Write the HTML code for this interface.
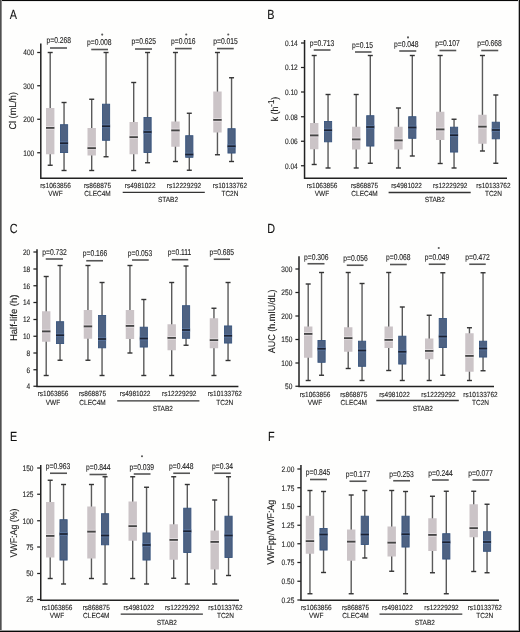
<!DOCTYPE html>
<html><head><meta charset="utf-8"><title>Figure</title>
<style>
html,body{margin:0;padding:0;background:#fefefd;}
body{width:520px;height:632px;overflow:hidden;position:relative;}
svg{position:absolute;left:0;top:0;display:block;}
text{font-family:"Liberation Sans",sans-serif;text-rendering:geometricPrecision;fill:#222;stroke:#222;stroke-width:0.12;}
svg{will-change:transform;}
.lt{fill:#111;}
.wh{stroke:#5a5a5a;stroke-width:1.4;}
.cp{stroke:#333;stroke-width:1.4;}
.gb{fill:#cbc4c7;}
.bb{fill:#4e6282;stroke:#39557e;stroke-width:0.9;}
.mdg{stroke:#454545;stroke-width:1.8;}
.mdb{stroke:#1b2233;stroke-width:1.6;}
.mhg{stroke:#e3dee1;stroke-width:0.9;}
.mhb{stroke:#5a76a0;stroke-width:0.9;}
.ax{fill:none;stroke:#222;stroke-width:1.5;stroke-linecap:butt;stroke-linejoin:miter;}
.tk{stroke:#222;stroke-width:1.25;}
.pb{stroke:#555;stroke-width:1.6;}
.sl{stroke:#333;stroke-width:1.3;}
</style></head>
<body>
<svg width="520" height="632" viewBox="0 0 520 632">
<rect x="0" y="0" width="520" height="632" fill="#fefefd"/>
<text transform="translate(9.7 18.6) scale(0.82 1)" font-size="13.2" class="lt">A</text>
<line x1="50.2" y1="52.5" x2="50.2" y2="165.25" class="wh"/>
<line x1="47.7" y1="52.5" x2="52.7" y2="52.5" class="cp"/>
<line x1="47.7" y1="165.25" x2="52.7" y2="165.25" class="cp"/>
<rect x="46" y="108" width="8.4" height="46.25" class="gb"/>
<line x1="46" y1="126.5" x2="54.4" y2="126.5" class="mhg"/>
<line x1="46" y1="129.3" x2="54.4" y2="129.3" class="mhg"/>
<line x1="46" y1="127.9" x2="54.4" y2="127.9" class="mdg"/>
<line x1="64.05" y1="102.5" x2="64.05" y2="170.5" class="wh"/>
<line x1="61.55" y1="102.5" x2="66.55" y2="102.5" class="cp"/>
<line x1="61.55" y1="170.5" x2="66.55" y2="170.5" class="cp"/>
<rect x="60.45" y="124.7" width="7.2" height="27.85" class="bb"/>
<line x1="60" y1="141.85" x2="68.1" y2="141.85" class="mhb"/>
<line x1="60" y1="144.65" x2="68.1" y2="144.65" class="mhb"/>
<line x1="60" y1="143.25" x2="68.1" y2="143.25" class="mdb"/>
<line x1="91.7" y1="99.25" x2="91.7" y2="170.5" class="wh"/>
<line x1="89.2" y1="99.25" x2="94.2" y2="99.25" class="cp"/>
<line x1="89.2" y1="170.5" x2="94.2" y2="170.5" class="cp"/>
<rect x="87.5" y="128" width="8.4" height="27.5" class="gb"/>
<line x1="87.5" y1="146.75" x2="95.9" y2="146.75" class="mhg"/>
<line x1="87.5" y1="149.55" x2="95.9" y2="149.55" class="mhg"/>
<line x1="87.5" y1="148.15" x2="95.9" y2="148.15" class="mdg"/>
<line x1="106.05" y1="52.5" x2="106.05" y2="156.75" class="wh"/>
<line x1="103.55" y1="52.5" x2="108.55" y2="52.5" class="cp"/>
<line x1="103.55" y1="156.75" x2="108.55" y2="156.75" class="cp"/>
<rect x="102.45" y="104.2" width="7.2" height="36.1" class="bb"/>
<line x1="102" y1="124.85" x2="110.1" y2="124.85" class="mhb"/>
<line x1="102" y1="127.65" x2="110.1" y2="127.65" class="mhb"/>
<line x1="102" y1="126.25" x2="110.1" y2="126.25" class="mdb"/>
<line x1="133.7" y1="82.5" x2="133.7" y2="170.5" class="wh"/>
<line x1="131.2" y1="82.5" x2="136.2" y2="82.5" class="cp"/>
<line x1="131.2" y1="170.5" x2="136.2" y2="170.5" class="cp"/>
<rect x="129.5" y="122" width="8.4" height="32.25" class="gb"/>
<line x1="129.5" y1="135.75" x2="137.9" y2="135.75" class="mhg"/>
<line x1="129.5" y1="138.55" x2="137.9" y2="138.55" class="mhg"/>
<line x1="129.5" y1="137.15" x2="137.9" y2="137.15" class="mdg"/>
<line x1="147.55" y1="52.5" x2="147.55" y2="162.75" class="wh"/>
<line x1="145.05" y1="52.5" x2="150.05" y2="52.5" class="cp"/>
<line x1="145.05" y1="162.75" x2="150.05" y2="162.75" class="cp"/>
<rect x="143.95" y="117.45" width="7.2" height="35.1" class="bb"/>
<line x1="143.5" y1="130.6" x2="151.6" y2="130.6" class="mhb"/>
<line x1="143.5" y1="133.4" x2="151.6" y2="133.4" class="mhb"/>
<line x1="143.5" y1="132" x2="151.6" y2="132" class="mdb"/>
<line x1="175.45" y1="52.5" x2="175.45" y2="161.5" class="wh"/>
<line x1="172.95" y1="52.5" x2="177.95" y2="52.5" class="cp"/>
<line x1="172.95" y1="161.5" x2="177.95" y2="161.5" class="cp"/>
<rect x="171.25" y="121.5" width="8.4" height="25.25" class="gb"/>
<line x1="171.25" y1="129" x2="179.65" y2="129" class="mhg"/>
<line x1="171.25" y1="131.8" x2="179.65" y2="131.8" class="mhg"/>
<line x1="171.25" y1="130.4" x2="179.65" y2="130.4" class="mdg"/>
<line x1="189.3" y1="113.25" x2="189.3" y2="170.25" class="wh"/>
<line x1="186.8" y1="113.25" x2="191.8" y2="113.25" class="cp"/>
<line x1="186.8" y1="170.25" x2="191.8" y2="170.25" class="cp"/>
<rect x="185.7" y="135.7" width="7.2" height="21.6" class="bb"/>
<line x1="185.25" y1="153.1" x2="193.35" y2="153.1" class="mhb"/>
<line x1="185.25" y1="155.9" x2="193.35" y2="155.9" class="mhb"/>
<line x1="185.25" y1="154.5" x2="193.35" y2="154.5" class="mdb"/>
<line x1="217.45" y1="52.5" x2="217.45" y2="154.75" class="wh"/>
<line x1="214.95" y1="52.5" x2="219.95" y2="52.5" class="cp"/>
<line x1="214.95" y1="154.75" x2="219.95" y2="154.75" class="cp"/>
<rect x="213.25" y="91.5" width="8.4" height="41" class="gb"/>
<line x1="213.25" y1="118.5" x2="221.65" y2="118.5" class="mhg"/>
<line x1="213.25" y1="121.3" x2="221.65" y2="121.3" class="mhg"/>
<line x1="213.25" y1="119.9" x2="221.65" y2="119.9" class="mdg"/>
<line x1="231.55" y1="77.75" x2="231.55" y2="161.5" class="wh"/>
<line x1="229.05" y1="77.75" x2="234.05" y2="77.75" class="cp"/>
<line x1="229.05" y1="161.5" x2="234.05" y2="161.5" class="cp"/>
<rect x="227.95" y="128.7" width="7.2" height="24.35" class="bb"/>
<line x1="227.5" y1="144.85" x2="235.6" y2="144.85" class="mhb"/>
<line x1="227.5" y1="147.65" x2="235.6" y2="147.65" class="mhb"/>
<line x1="227.5" y1="146.25" x2="235.6" y2="146.25" class="mdb"/>
<path d="M40.8 43.5 V178.3 H243" class="ax"/>
<line x1="37.2" y1="52.5" x2="40.8" y2="52.5" class="tk"/>
<text transform="translate(34.2 55.3) scale(0.83 1)" font-size="7.9" text-anchor="end">400</text>
<line x1="37.2" y1="85.75" x2="40.8" y2="85.75" class="tk"/>
<text transform="translate(34.2 88.55) scale(0.83 1)" font-size="7.9" text-anchor="end">300</text>
<line x1="37.2" y1="119.25" x2="40.8" y2="119.25" class="tk"/>
<text transform="translate(34.2 122.05) scale(0.83 1)" font-size="7.9" text-anchor="end">200</text>
<line x1="37.2" y1="152.75" x2="40.8" y2="152.75" class="tk"/>
<text transform="translate(34.2 155.55) scale(0.83 1)" font-size="7.9" text-anchor="end">100</text>
<text transform="translate(58.75 42.8) scale(0.795 1)" font-size="8.5" text-anchor="middle">p=0.268</text>
<line x1="50" y1="48" x2="67" y2="48" class="pb"/>
<text transform="translate(99.25 45) scale(0.795 1)" font-size="8.5" text-anchor="middle">p=0.008</text>
<line x1="91.25" y1="49.5" x2="108" y2="49.5" class="pb"/>
<circle cx="102.2" cy="34.6" r="1.05" fill="#5a5a5a"/>
<text transform="translate(143.75 44.3) scale(0.795 1)" font-size="8.5" text-anchor="middle">p=0.625</text>
<line x1="135" y1="49" x2="152" y2="49" class="pb"/>
<text transform="translate(183.25 44.1) scale(0.795 1)" font-size="8.5" text-anchor="middle">p=0.016</text>
<line x1="175" y1="48.6" x2="191.75" y2="48.6" class="pb"/>
<circle cx="186.25" cy="34.5" r="1.05" fill="#5a5a5a"/>
<text transform="translate(225.5 44.1) scale(0.795 1)" font-size="8.5" text-anchor="middle">p=0.015</text>
<line x1="217" y1="48.6" x2="233.75" y2="48.6" class="pb"/>
<circle cx="228.25" cy="34.5" r="1.05" fill="#5a5a5a"/>
<text transform="translate(55.5 187.7) scale(0.88 1)" font-size="7.4" text-anchor="middle">rs1063856</text>
<text transform="translate(55.5 195.9) scale(0.88 1)" font-size="7.4" text-anchor="middle">VWF</text>
<text transform="translate(97.5 187.7) scale(0.88 1)" font-size="7.4" text-anchor="middle">rs868875</text>
<text transform="translate(97.5 195.9) scale(0.88 1)" font-size="7.4" text-anchor="middle">CLEC4M</text>
<text transform="translate(140.2 187.7) scale(0.88 1)" font-size="7.4" text-anchor="middle">rs4981022</text>
<text transform="translate(184 187.7) scale(0.88 1)" font-size="7.4" text-anchor="middle">rs12229292</text>
<text transform="translate(229.9 187.7) scale(0.88 1)" font-size="7.4" text-anchor="middle">rs10133762</text>
<text transform="translate(229.9 195.9) scale(0.88 1)" font-size="7.4" text-anchor="middle">TC2N</text>
<line x1="122.7" y1="192.4" x2="204.8" y2="192.4" class="sl"/>
<text transform="translate(168 202.3) scale(0.88 1)" font-size="7.4" text-anchor="middle">STAB2</text>
<text transform="translate(15.8 110.8) rotate(-90) scale(0.93 1)" font-size="9.8" text-anchor="middle">Cl (mL/h)</text>
<text transform="translate(267.2 18.7) scale(0.82 1)" font-size="13.2" class="lt">B</text>
<line x1="314.2" y1="55.5" x2="314.2" y2="164.5" class="wh"/>
<line x1="311.7" y1="55.5" x2="316.7" y2="55.5" class="cp"/>
<line x1="311.7" y1="164.5" x2="316.7" y2="164.5" class="cp"/>
<rect x="310" y="123" width="8.4" height="26.25" class="gb"/>
<line x1="310" y1="134" x2="318.4" y2="134" class="mhg"/>
<line x1="310" y1="136.8" x2="318.4" y2="136.8" class="mhg"/>
<line x1="310" y1="135.4" x2="318.4" y2="135.4" class="mdg"/>
<line x1="328.05" y1="94.5" x2="328.05" y2="168" class="wh"/>
<line x1="325.55" y1="94.5" x2="330.55" y2="94.5" class="cp"/>
<line x1="325.55" y1="168" x2="330.55" y2="168" class="cp"/>
<rect x="324.45" y="121.45" width="7.2" height="20.35" class="bb"/>
<line x1="324" y1="128.85" x2="332.1" y2="128.85" class="mhb"/>
<line x1="324" y1="131.65" x2="332.1" y2="131.65" class="mhb"/>
<line x1="324" y1="130.25" x2="332.1" y2="130.25" class="mdb"/>
<line x1="356.2" y1="94.5" x2="356.2" y2="168" class="wh"/>
<line x1="353.7" y1="94.5" x2="358.7" y2="94.5" class="cp"/>
<line x1="353.7" y1="168" x2="358.7" y2="168" class="cp"/>
<rect x="352" y="126.75" width="8.4" height="22.75" class="gb"/>
<line x1="352" y1="138" x2="360.4" y2="138" class="mhg"/>
<line x1="352" y1="140.8" x2="360.4" y2="140.8" class="mhg"/>
<line x1="352" y1="139.4" x2="360.4" y2="139.4" class="mdg"/>
<line x1="370.3" y1="55.5" x2="370.3" y2="163.25" class="wh"/>
<line x1="367.8" y1="55.5" x2="372.8" y2="55.5" class="cp"/>
<line x1="367.8" y1="163.25" x2="372.8" y2="163.25" class="cp"/>
<rect x="366.7" y="115.7" width="7.2" height="30.35" class="bb"/>
<line x1="366.25" y1="125.6" x2="374.35" y2="125.6" class="mhb"/>
<line x1="366.25" y1="128.4" x2="374.35" y2="128.4" class="mhb"/>
<line x1="366.25" y1="127" x2="374.35" y2="127" class="mdb"/>
<line x1="398.45" y1="108" x2="398.45" y2="168" class="wh"/>
<line x1="395.95" y1="108" x2="400.95" y2="108" class="cp"/>
<line x1="395.95" y1="168" x2="400.95" y2="168" class="cp"/>
<rect x="394.25" y="126.75" width="8.4" height="22.75" class="gb"/>
<line x1="394.25" y1="139" x2="402.65" y2="139" class="mhg"/>
<line x1="394.25" y1="141.8" x2="402.65" y2="141.8" class="mhg"/>
<line x1="394.25" y1="140.4" x2="402.65" y2="140.4" class="mdg"/>
<line x1="412.3" y1="55.5" x2="412.3" y2="156" class="wh"/>
<line x1="409.8" y1="55.5" x2="414.8" y2="55.5" class="cp"/>
<line x1="409.8" y1="156" x2="414.8" y2="156" class="cp"/>
<rect x="408.7" y="116.7" width="7.2" height="21.6" class="bb"/>
<line x1="408.25" y1="126.1" x2="416.35" y2="126.1" class="mhb"/>
<line x1="408.25" y1="128.9" x2="416.35" y2="128.9" class="mhb"/>
<line x1="408.25" y1="127.5" x2="416.35" y2="127.5" class="mdb"/>
<line x1="440.2" y1="55.5" x2="440.2" y2="163.5" class="wh"/>
<line x1="437.7" y1="55.5" x2="442.7" y2="55.5" class="cp"/>
<line x1="437.7" y1="163.5" x2="442.7" y2="163.5" class="cp"/>
<rect x="436" y="111.75" width="8.4" height="28.25" class="gb"/>
<line x1="436" y1="128" x2="444.4" y2="128" class="mhg"/>
<line x1="436" y1="130.8" x2="444.4" y2="130.8" class="mhg"/>
<line x1="436" y1="129.4" x2="444.4" y2="129.4" class="mdg"/>
<line x1="454.05" y1="119.25" x2="454.05" y2="168" class="wh"/>
<line x1="451.55" y1="119.25" x2="456.55" y2="119.25" class="cp"/>
<line x1="451.55" y1="168" x2="456.55" y2="168" class="cp"/>
<rect x="450.45" y="127.2" width="7.2" height="24.85" class="bb"/>
<line x1="450" y1="133.85" x2="458.1" y2="133.85" class="mhb"/>
<line x1="450" y1="136.65" x2="458.1" y2="136.65" class="mhb"/>
<line x1="450" y1="135.25" x2="458.1" y2="135.25" class="mdb"/>
<line x1="482.45" y1="55.5" x2="482.45" y2="151" class="wh"/>
<line x1="479.95" y1="55.5" x2="484.95" y2="55.5" class="cp"/>
<line x1="479.95" y1="151" x2="484.95" y2="151" class="cp"/>
<rect x="478.25" y="114.75" width="8.4" height="29" class="gb"/>
<line x1="478.25" y1="125.25" x2="486.65" y2="125.25" class="mhg"/>
<line x1="478.25" y1="128.05" x2="486.65" y2="128.05" class="mhg"/>
<line x1="478.25" y1="126.65" x2="486.65" y2="126.65" class="mdg"/>
<line x1="495.8" y1="95" x2="495.8" y2="163.25" class="wh"/>
<line x1="493.3" y1="95" x2="498.3" y2="95" class="cp"/>
<line x1="493.3" y1="163.25" x2="498.3" y2="163.25" class="cp"/>
<rect x="492.2" y="122.2" width="7.2" height="16.6" class="bb"/>
<line x1="491.75" y1="128.6" x2="499.85" y2="128.6" class="mhb"/>
<line x1="491.75" y1="131.4" x2="499.85" y2="131.4" class="mhb"/>
<line x1="491.75" y1="130" x2="499.85" y2="130" class="mdb"/>
<path d="M304.55 40 V178.3 H507" class="ax"/>
<line x1="300.95" y1="43" x2="304.55" y2="43" class="tk"/>
<text transform="translate(297.7 45.8) scale(0.83 1)" font-size="7.9" text-anchor="end">0.14</text>
<line x1="300.95" y1="67.5" x2="304.55" y2="67.5" class="tk"/>
<text transform="translate(297.7 70.3) scale(0.83 1)" font-size="7.9" text-anchor="end">0.12</text>
<line x1="300.95" y1="92" x2="304.55" y2="92" class="tk"/>
<text transform="translate(297.7 94.8) scale(0.83 1)" font-size="7.9" text-anchor="end">0.10</text>
<line x1="300.95" y1="116.75" x2="304.55" y2="116.75" class="tk"/>
<text transform="translate(297.7 119.55) scale(0.83 1)" font-size="7.9" text-anchor="end">0.08</text>
<line x1="300.95" y1="141.25" x2="304.55" y2="141.25" class="tk"/>
<text transform="translate(297.7 144.05) scale(0.83 1)" font-size="7.9" text-anchor="end">0.06</text>
<line x1="300.95" y1="165.75" x2="304.55" y2="165.75" class="tk"/>
<text transform="translate(297.7 168.55) scale(0.83 1)" font-size="7.9" text-anchor="end">0.04</text>
<text transform="translate(322 45.8) scale(0.795 1)" font-size="8.5" text-anchor="middle">p=0.713</text>
<line x1="313.75" y1="50" x2="330.5" y2="50" class="pb"/>
<text transform="translate(362.5 47.8) scale(0.795 1)" font-size="8.5" text-anchor="middle">p=0.15</text>
<line x1="355" y1="52" x2="371.5" y2="52" class="pb"/>
<text transform="translate(406.25 47) scale(0.795 1)" font-size="8.5" text-anchor="middle">p=0.048</text>
<line x1="399.25" y1="51" x2="416.25" y2="51" class="pb"/>
<circle cx="408" cy="37.4" r="1.05" fill="#5a5a5a"/>
<text transform="translate(447.5 45.8) scale(0.795 1)" font-size="8.5" text-anchor="middle">p=0.107</text>
<line x1="439.5" y1="50.5" x2="456.25" y2="50.5" class="pb"/>
<text transform="translate(489.5 45.8) scale(0.795 1)" font-size="8.5" text-anchor="middle">p=0.668</text>
<line x1="481.25" y1="50.5" x2="498.25" y2="50.5" class="pb"/>
<text transform="translate(322 187.9) scale(0.88 1)" font-size="7.4" text-anchor="middle">rs1063856</text>
<text transform="translate(322 196.3) scale(0.88 1)" font-size="7.4" text-anchor="middle">VWF</text>
<text transform="translate(364.5 187.9) scale(0.88 1)" font-size="7.4" text-anchor="middle">rs868875</text>
<text transform="translate(364.5 196.3) scale(0.88 1)" font-size="7.4" text-anchor="middle">CLEC4M</text>
<text transform="translate(406.5 187.9) scale(0.88 1)" font-size="7.4" text-anchor="middle">rs4981022</text>
<text transform="translate(450.2 187.9) scale(0.88 1)" font-size="7.4" text-anchor="middle">rs12229292</text>
<text transform="translate(493.4 187.9) scale(0.88 1)" font-size="7.4" text-anchor="middle">rs10133762</text>
<text transform="translate(493.4 196.3) scale(0.88 1)" font-size="7.4" text-anchor="middle">TC2N</text>
<line x1="388.6" y1="192.5" x2="470.7" y2="192.5" class="sl"/>
<text transform="translate(434.7 202.3) scale(0.88 1)" font-size="7.4" text-anchor="middle">STAB2</text>
<text transform="translate(277.9 109.1) rotate(-90) scale(0.9 1)" font-size="9.8" text-anchor="middle">k (h<tspan dy="-3.6" font-size="8.6">-1</tspan><tspan dy="3.6">)</tspan></text>
<text transform="translate(9.7 232.5) scale(0.82 1)" font-size="13.2" class="lt">C</text>
<line x1="46.2" y1="276.5" x2="46.2" y2="375.5" class="wh"/>
<line x1="43.7" y1="276.5" x2="48.7" y2="276.5" class="cp"/>
<line x1="43.7" y1="375.5" x2="48.7" y2="375.5" class="cp"/>
<rect x="42" y="311.25" width="8.4" height="30.5" class="gb"/>
<line x1="42" y1="330" x2="50.4" y2="330" class="mhg"/>
<line x1="42" y1="332.8" x2="50.4" y2="332.8" class="mhg"/>
<line x1="42" y1="331.4" x2="50.4" y2="331.4" class="mdg"/>
<line x1="60.05" y1="265.5" x2="60.05" y2="360.25" class="wh"/>
<line x1="57.55" y1="265.5" x2="62.55" y2="265.5" class="cp"/>
<line x1="57.55" y1="360.25" x2="62.55" y2="360.25" class="cp"/>
<rect x="56.45" y="321.7" width="7.2" height="21.85" class="bb"/>
<line x1="56" y1="333.85" x2="64.1" y2="333.85" class="mhb"/>
<line x1="56" y1="336.65" x2="64.1" y2="336.65" class="mhb"/>
<line x1="56" y1="335.25" x2="64.1" y2="335.25" class="mdb"/>
<line x1="87.95" y1="265.5" x2="87.95" y2="360.25" class="wh"/>
<line x1="85.45" y1="265.5" x2="90.45" y2="265.5" class="cp"/>
<line x1="85.45" y1="360.25" x2="90.45" y2="360.25" class="cp"/>
<rect x="83.75" y="310" width="8.4" height="28.75" class="gb"/>
<line x1="83.75" y1="325" x2="92.15" y2="325" class="mhg"/>
<line x1="83.75" y1="327.8" x2="92.15" y2="327.8" class="mhg"/>
<line x1="83.75" y1="326.4" x2="92.15" y2="326.4" class="mdg"/>
<line x1="102.05" y1="282.5" x2="102.05" y2="375.5" class="wh"/>
<line x1="99.55" y1="282.5" x2="104.55" y2="282.5" class="cp"/>
<line x1="99.55" y1="375.5" x2="104.55" y2="375.5" class="cp"/>
<rect x="98.45" y="315.45" width="7.2" height="32.35" class="bb"/>
<line x1="98" y1="337.6" x2="106.1" y2="337.6" class="mhb"/>
<line x1="98" y1="340.4" x2="106.1" y2="340.4" class="mhb"/>
<line x1="98" y1="339" x2="106.1" y2="339" class="mdb"/>
<line x1="129.95" y1="265.5" x2="129.95" y2="353" class="wh"/>
<line x1="127.45" y1="265.5" x2="132.45" y2="265.5" class="cp"/>
<line x1="127.45" y1="353" x2="132.45" y2="353" class="cp"/>
<rect x="125.75" y="310" width="8.4" height="29" class="gb"/>
<line x1="125.75" y1="324.5" x2="134.15" y2="324.5" class="mhg"/>
<line x1="125.75" y1="327.3" x2="134.15" y2="327.3" class="mhg"/>
<line x1="125.75" y1="325.9" x2="134.15" y2="325.9" class="mdg"/>
<line x1="143.8" y1="299.5" x2="143.8" y2="375.5" class="wh"/>
<line x1="141.3" y1="299.5" x2="146.3" y2="299.5" class="cp"/>
<line x1="141.3" y1="375.5" x2="146.3" y2="375.5" class="cp"/>
<rect x="140.2" y="327.2" width="7.2" height="19.85" class="bb"/>
<line x1="139.75" y1="337.1" x2="147.85" y2="337.1" class="mhb"/>
<line x1="139.75" y1="339.9" x2="147.85" y2="339.9" class="mhb"/>
<line x1="139.75" y1="338.5" x2="147.85" y2="338.5" class="mdb"/>
<line x1="171.7" y1="282.5" x2="171.7" y2="375.5" class="wh"/>
<line x1="169.2" y1="282.5" x2="174.2" y2="282.5" class="cp"/>
<line x1="169.2" y1="375.5" x2="174.2" y2="375.5" class="cp"/>
<rect x="167.5" y="324.25" width="8.4" height="26" class="gb"/>
<line x1="167.5" y1="336.5" x2="175.9" y2="336.5" class="mhg"/>
<line x1="167.5" y1="339.3" x2="175.9" y2="339.3" class="mhg"/>
<line x1="167.5" y1="337.9" x2="175.9" y2="337.9" class="mdg"/>
<line x1="186.05" y1="266" x2="186.05" y2="345.25" class="wh"/>
<line x1="183.55" y1="266" x2="188.55" y2="266" class="cp"/>
<line x1="183.55" y1="345.25" x2="188.55" y2="345.25" class="cp"/>
<rect x="182.45" y="305.7" width="7.2" height="32.6" class="bb"/>
<line x1="182" y1="328.6" x2="190.1" y2="328.6" class="mhb"/>
<line x1="182" y1="331.4" x2="190.1" y2="331.4" class="mhb"/>
<line x1="182" y1="330" x2="190.1" y2="330" class="mdb"/>
<line x1="213.95" y1="308.25" x2="213.95" y2="375.5" class="wh"/>
<line x1="211.45" y1="308.25" x2="216.45" y2="308.25" class="cp"/>
<line x1="211.45" y1="375.5" x2="216.45" y2="375.5" class="cp"/>
<rect x="209.75" y="318.25" width="8.4" height="30" class="gb"/>
<line x1="209.75" y1="338.75" x2="218.15" y2="338.75" class="mhg"/>
<line x1="209.75" y1="341.55" x2="218.15" y2="341.55" class="mhg"/>
<line x1="209.75" y1="340.15" x2="218.15" y2="340.15" class="mdg"/>
<line x1="228.05" y1="282.5" x2="228.05" y2="360.5" class="wh"/>
<line x1="225.55" y1="282.5" x2="230.55" y2="282.5" class="cp"/>
<line x1="225.55" y1="360.5" x2="230.55" y2="360.5" class="cp"/>
<rect x="224.45" y="325.95" width="7.2" height="17.1" class="bb"/>
<line x1="224" y1="334.35" x2="232.1" y2="334.35" class="mhb"/>
<line x1="224" y1="337.15" x2="232.1" y2="337.15" class="mhb"/>
<line x1="224" y1="335.75" x2="232.1" y2="335.75" class="mdb"/>
<path d="M37 249.3 V386.5 H238.4" class="ax"/>
<line x1="33.4" y1="252" x2="37" y2="252" class="tk"/>
<text transform="translate(30.2 254.8) scale(0.83 1)" font-size="7.9" text-anchor="end">20</text>
<line x1="33.4" y1="269" x2="37" y2="269" class="tk"/>
<text transform="translate(30.2 271.8) scale(0.83 1)" font-size="7.9" text-anchor="end">18</text>
<line x1="33.4" y1="285.75" x2="37" y2="285.75" class="tk"/>
<text transform="translate(30.2 288.55) scale(0.83 1)" font-size="7.9" text-anchor="end">16</text>
<line x1="33.4" y1="302.5" x2="37" y2="302.5" class="tk"/>
<text transform="translate(30.2 305.3) scale(0.83 1)" font-size="7.9" text-anchor="end">14</text>
<line x1="33.4" y1="319.5" x2="37" y2="319.5" class="tk"/>
<text transform="translate(30.2 322.3) scale(0.83 1)" font-size="7.9" text-anchor="end">12</text>
<line x1="33.4" y1="336.25" x2="37" y2="336.25" class="tk"/>
<text transform="translate(30.2 339.05) scale(0.83 1)" font-size="7.9" text-anchor="end">10</text>
<line x1="33.4" y1="353" x2="37" y2="353" class="tk"/>
<text transform="translate(30.2 355.8) scale(0.83 1)" font-size="7.9" text-anchor="end">8</text>
<line x1="33.4" y1="369.75" x2="37" y2="369.75" class="tk"/>
<text transform="translate(30.2 372.55) scale(0.83 1)" font-size="7.9" text-anchor="end">6</text>
<line x1="33.4" y1="386.25" x2="37" y2="386.25" class="tk"/>
<text transform="translate(30.2 389.05) scale(0.83 1)" font-size="7.9" text-anchor="end">4</text>
<text transform="translate(54.5 254.5) scale(0.795 1)" font-size="8.5" text-anchor="middle">p=0.732</text>
<line x1="45.75" y1="259" x2="63" y2="259" class="pb"/>
<text transform="translate(95 256) scale(0.795 1)" font-size="8.5" text-anchor="middle">p=0.166</text>
<line x1="86.25" y1="260.75" x2="103" y2="260.75" class="pb"/>
<text transform="translate(140 255.8) scale(0.795 1)" font-size="8.5" text-anchor="middle">p=0.053</text>
<line x1="132" y1="260" x2="148.75" y2="260" class="pb"/>
<text transform="translate(179.5 254.8) scale(0.795 1)" font-size="8.5" text-anchor="middle">p=0.111</text>
<line x1="171.75" y1="259.7" x2="188.25" y2="259.7" class="pb"/>
<text transform="translate(221.75 254.8) scale(0.795 1)" font-size="8.5" text-anchor="middle">p=0.685</text>
<line x1="213.75" y1="259.25" x2="230" y2="259.25" class="pb"/>
<text transform="translate(53 396.1) scale(0.88 1)" font-size="7.4" text-anchor="middle">rs1063856</text>
<text transform="translate(53 404.8) scale(0.88 1)" font-size="7.4" text-anchor="middle">VWF</text>
<text transform="translate(92.5 396.1) scale(0.88 1)" font-size="7.4" text-anchor="middle">rs868875</text>
<text transform="translate(92.5 404.8) scale(0.88 1)" font-size="7.4" text-anchor="middle">CLEC4M</text>
<text transform="translate(135.1 396.1) scale(0.88 1)" font-size="7.4" text-anchor="middle">rs4981022</text>
<text transform="translate(179.2 396.1) scale(0.88 1)" font-size="7.4" text-anchor="middle">rs12229292</text>
<text transform="translate(224.8 396.1) scale(0.88 1)" font-size="7.4" text-anchor="middle">rs10133762</text>
<text transform="translate(224.8 404.8) scale(0.88 1)" font-size="7.4" text-anchor="middle">TC2N</text>
<line x1="117.2" y1="400.8" x2="199.4" y2="400.8" class="sl"/>
<text transform="translate(162.8 411) scale(0.88 1)" font-size="7.4" text-anchor="middle">STAB2</text>
<text transform="translate(16.9 317.8) rotate(-90) scale(0.97 1)" font-size="9.8" text-anchor="middle">Half-life (h)</text>
<text transform="translate(267.2 232.5) scale(0.82 1)" font-size="13.2" class="lt">D</text>
<line x1="308.2" y1="284" x2="308.2" y2="380.5" class="wh"/>
<line x1="305.7" y1="284" x2="310.7" y2="284" class="cp"/>
<line x1="305.7" y1="380.5" x2="310.7" y2="380.5" class="cp"/>
<rect x="304" y="326.5" width="8.4" height="31.25" class="gb"/>
<line x1="304" y1="332.5" x2="312.4" y2="332.5" class="mhg"/>
<line x1="304" y1="335.3" x2="312.4" y2="335.3" class="mhg"/>
<line x1="304" y1="333.9" x2="312.4" y2="333.9" class="mdg"/>
<line x1="321.55" y1="272.5" x2="321.55" y2="375.25" class="wh"/>
<line x1="319.05" y1="272.5" x2="324.05" y2="272.5" class="cp"/>
<line x1="319.05" y1="375.25" x2="324.05" y2="375.25" class="cp"/>
<rect x="317.95" y="340.45" width="7.2" height="21.85" class="bb"/>
<line x1="317.5" y1="347.35" x2="325.6" y2="347.35" class="mhb"/>
<line x1="317.5" y1="350.15" x2="325.6" y2="350.15" class="mhb"/>
<line x1="317.5" y1="348.75" x2="325.6" y2="348.75" class="mdb"/>
<line x1="348.2" y1="272.5" x2="348.2" y2="368.5" class="wh"/>
<line x1="345.7" y1="272.5" x2="350.7" y2="272.5" class="cp"/>
<line x1="345.7" y1="368.5" x2="350.7" y2="368.5" class="cp"/>
<rect x="344" y="327.25" width="8.4" height="24.5" class="gb"/>
<line x1="344" y1="336.75" x2="352.4" y2="336.75" class="mhg"/>
<line x1="344" y1="339.55" x2="352.4" y2="339.55" class="mhg"/>
<line x1="344" y1="338.15" x2="352.4" y2="338.15" class="mdg"/>
<line x1="362.05" y1="283.5" x2="362.05" y2="380.5" class="wh"/>
<line x1="359.55" y1="283.5" x2="364.55" y2="283.5" class="cp"/>
<line x1="359.55" y1="380.5" x2="364.55" y2="380.5" class="cp"/>
<rect x="358.45" y="341.2" width="7.2" height="25.1" class="bb"/>
<line x1="358" y1="349.1" x2="366.1" y2="349.1" class="mhb"/>
<line x1="358" y1="351.9" x2="366.1" y2="351.9" class="mhb"/>
<line x1="358" y1="350.5" x2="366.1" y2="350.5" class="mdb"/>
<line x1="388.7" y1="272.5" x2="388.7" y2="370.5" class="wh"/>
<line x1="386.2" y1="272.5" x2="391.2" y2="272.5" class="cp"/>
<line x1="386.2" y1="370.5" x2="391.2" y2="370.5" class="cp"/>
<rect x="384.5" y="326.5" width="8.4" height="21.5" class="gb"/>
<line x1="384.5" y1="338.5" x2="392.9" y2="338.5" class="mhg"/>
<line x1="384.5" y1="341.3" x2="392.9" y2="341.3" class="mhg"/>
<line x1="384.5" y1="339.9" x2="392.9" y2="339.9" class="mdg"/>
<line x1="402.3" y1="307" x2="402.3" y2="380.5" class="wh"/>
<line x1="399.8" y1="307" x2="404.8" y2="307" class="cp"/>
<line x1="399.8" y1="380.5" x2="404.8" y2="380.5" class="cp"/>
<rect x="398.7" y="336.2" width="7.2" height="27.85" class="bb"/>
<line x1="398.25" y1="350.35" x2="406.35" y2="350.35" class="mhb"/>
<line x1="398.25" y1="353.15" x2="406.35" y2="353.15" class="mhb"/>
<line x1="398.25" y1="351.75" x2="406.35" y2="351.75" class="mdb"/>
<line x1="429.2" y1="315.25" x2="429.2" y2="380.5" class="wh"/>
<line x1="426.7" y1="315.25" x2="431.7" y2="315.25" class="cp"/>
<line x1="426.7" y1="380.5" x2="431.7" y2="380.5" class="cp"/>
<rect x="425" y="338.5" width="8.4" height="20.75" class="gb"/>
<line x1="425" y1="349.5" x2="433.4" y2="349.5" class="mhg"/>
<line x1="425" y1="352.3" x2="433.4" y2="352.3" class="mhg"/>
<line x1="425" y1="350.9" x2="433.4" y2="350.9" class="mdg"/>
<line x1="442.8" y1="272.75" x2="442.8" y2="375.25" class="wh"/>
<line x1="440.3" y1="272.75" x2="445.3" y2="272.75" class="cp"/>
<line x1="440.3" y1="375.25" x2="445.3" y2="375.25" class="cp"/>
<rect x="439.2" y="318.45" width="7.2" height="29.1" class="bb"/>
<line x1="438.75" y1="335.1" x2="446.85" y2="335.1" class="mhb"/>
<line x1="438.75" y1="337.9" x2="446.85" y2="337.9" class="mhb"/>
<line x1="438.75" y1="336.5" x2="446.85" y2="336.5" class="mdb"/>
<line x1="469.45" y1="327.75" x2="469.45" y2="380.5" class="wh"/>
<line x1="466.95" y1="327.75" x2="471.95" y2="327.75" class="cp"/>
<line x1="466.95" y1="380.5" x2="471.95" y2="380.5" class="cp"/>
<rect x="465.25" y="333.25" width="8.4" height="38.5" class="gb"/>
<line x1="465.25" y1="354.5" x2="473.65" y2="354.5" class="mhg"/>
<line x1="465.25" y1="357.3" x2="473.65" y2="357.3" class="mhg"/>
<line x1="465.25" y1="355.9" x2="473.65" y2="355.9" class="mdg"/>
<line x1="483.05" y1="272.75" x2="483.05" y2="370.75" class="wh"/>
<line x1="480.55" y1="272.75" x2="485.55" y2="272.75" class="cp"/>
<line x1="480.55" y1="370.75" x2="485.55" y2="370.75" class="cp"/>
<rect x="479.45" y="341.2" width="7.2" height="15.85" class="bb"/>
<line x1="479" y1="347.1" x2="487.1" y2="347.1" class="mhb"/>
<line x1="479" y1="349.9" x2="487.1" y2="349.9" class="mhb"/>
<line x1="479" y1="348.5" x2="487.1" y2="348.5" class="mdb"/>
<path d="M299 256.3 V386.5 H494" class="ax"/>
<line x1="295.4" y1="269" x2="299" y2="269" class="tk"/>
<text transform="translate(292.3 271.8) scale(0.83 1)" font-size="7.9" text-anchor="end">300</text>
<line x1="295.4" y1="292.5" x2="299" y2="292.5" class="tk"/>
<text transform="translate(292.3 295.3) scale(0.83 1)" font-size="7.9" text-anchor="end">250</text>
<line x1="295.4" y1="316" x2="299" y2="316" class="tk"/>
<text transform="translate(292.3 318.8) scale(0.83 1)" font-size="7.9" text-anchor="end">200</text>
<line x1="295.4" y1="339.5" x2="299" y2="339.5" class="tk"/>
<text transform="translate(292.3 342.3) scale(0.83 1)" font-size="7.9" text-anchor="end">150</text>
<line x1="295.4" y1="363" x2="299" y2="363" class="tk"/>
<text transform="translate(292.3 365.8) scale(0.83 1)" font-size="7.9" text-anchor="end">100</text>
<line x1="295.4" y1="386.25" x2="299" y2="386.25" class="tk"/>
<text transform="translate(292.3 389.05) scale(0.83 1)" font-size="7.9" text-anchor="end">50</text>
<text transform="translate(316.25 259.5) scale(0.795 1)" font-size="8.5" text-anchor="middle">p=0.306</text>
<line x1="307.5" y1="263.75" x2="324.5" y2="263.75" class="pb"/>
<text transform="translate(355.5 260.8) scale(0.795 1)" font-size="8.5" text-anchor="middle">p=0.056</text>
<line x1="346.75" y1="265.25" x2="363.5" y2="265.25" class="pb"/>
<text transform="translate(398.25 260.3) scale(0.795 1)" font-size="8.5" text-anchor="middle">p=0.068</text>
<line x1="390" y1="264.5" x2="406.75" y2="264.5" class="pb"/>
<text transform="translate(437 259.8) scale(0.795 1)" font-size="8.5" text-anchor="middle">p=0.049</text>
<line x1="428.75" y1="264.25" x2="445.5" y2="264.25" class="pb"/>
<circle cx="438.75" cy="248" r="1.05" fill="#5a5a5a"/>
<text transform="translate(477.5 259.8) scale(0.795 1)" font-size="8.5" text-anchor="middle">p=0.472</text>
<line x1="469.25" y1="264.25" x2="485.75" y2="264.25" class="pb"/>
<text transform="translate(315 396.5) scale(0.88 1)" font-size="7.4" text-anchor="middle">rs1063856</text>
<text transform="translate(315 405) scale(0.88 1)" font-size="7.4" text-anchor="middle">VWF</text>
<text transform="translate(353.75 396.5) scale(0.88 1)" font-size="7.4" text-anchor="middle">rs868875</text>
<text transform="translate(353.75 405) scale(0.88 1)" font-size="7.4" text-anchor="middle">CLEC4M</text>
<text transform="translate(394.5 396.5) scale(0.88 1)" font-size="7.4" text-anchor="middle">rs4981022</text>
<text transform="translate(438.4 396.5) scale(0.88 1)" font-size="7.4" text-anchor="middle">rs12229292</text>
<text transform="translate(480.5 396.5) scale(0.88 1)" font-size="7.4" text-anchor="middle">rs10133762</text>
<text transform="translate(480.5 405) scale(0.88 1)" font-size="7.4" text-anchor="middle">TC2N</text>
<line x1="376.3" y1="400.5" x2="458.8" y2="400.5" class="sl"/>
<text transform="translate(422.8 410.8) scale(0.88 1)" font-size="7.4" text-anchor="middle">STAB2</text>
<text transform="translate(275.2 321.3) rotate(-90) scale(0.915 1)" font-size="9.8" text-anchor="middle">AUC (h.mIU/dL)</text>
<text transform="translate(10 441.3) scale(0.82 1)" font-size="13.2" class="lt">E</text>
<line x1="50.2" y1="480.25" x2="50.2" y2="578.5" class="wh"/>
<line x1="47.7" y1="480.25" x2="52.7" y2="480.25" class="cp"/>
<line x1="47.7" y1="578.5" x2="52.7" y2="578.5" class="cp"/>
<rect x="46" y="502" width="8.4" height="55.5" class="gb"/>
<line x1="46" y1="534.5" x2="54.4" y2="534.5" class="mhg"/>
<line x1="46" y1="537.3" x2="54.4" y2="537.3" class="mhg"/>
<line x1="46" y1="535.9" x2="54.4" y2="535.9" class="mdg"/>
<line x1="63.55" y1="484.5" x2="63.55" y2="584" class="wh"/>
<line x1="61.05" y1="484.5" x2="66.05" y2="484.5" class="cp"/>
<line x1="61.05" y1="584" x2="66.05" y2="584" class="cp"/>
<rect x="59.95" y="519.7" width="7.2" height="40.35" class="bb"/>
<line x1="59.5" y1="532.6" x2="67.6" y2="532.6" class="mhb"/>
<line x1="59.5" y1="535.4" x2="67.6" y2="535.4" class="mhb"/>
<line x1="59.5" y1="534" x2="67.6" y2="534" class="mdb"/>
<line x1="91.45" y1="484.5" x2="91.45" y2="578.5" class="wh"/>
<line x1="88.95" y1="484.5" x2="93.95" y2="484.5" class="cp"/>
<line x1="88.95" y1="578.5" x2="93.95" y2="578.5" class="cp"/>
<rect x="87.25" y="506.5" width="8.4" height="52" class="gb"/>
<line x1="87.25" y1="530.25" x2="95.65" y2="530.25" class="mhg"/>
<line x1="87.25" y1="533.05" x2="95.65" y2="533.05" class="mhg"/>
<line x1="87.25" y1="531.65" x2="95.65" y2="531.65" class="mdg"/>
<line x1="105.05" y1="476.75" x2="105.05" y2="584" class="wh"/>
<line x1="102.55" y1="476.75" x2="107.55" y2="476.75" class="cp"/>
<line x1="102.55" y1="584" x2="107.55" y2="584" class="cp"/>
<rect x="101.45" y="513.7" width="7.2" height="31.1" class="bb"/>
<line x1="101" y1="534.1" x2="109.1" y2="534.1" class="mhb"/>
<line x1="101" y1="536.9" x2="109.1" y2="536.9" class="mhb"/>
<line x1="101" y1="535.5" x2="109.1" y2="535.5" class="mdb"/>
<line x1="132.7" y1="476.75" x2="132.7" y2="578.5" class="wh"/>
<line x1="130.2" y1="476.75" x2="135.2" y2="476.75" class="cp"/>
<line x1="130.2" y1="578.5" x2="135.2" y2="578.5" class="cp"/>
<rect x="128.5" y="501.5" width="8.4" height="39.25" class="gb"/>
<line x1="128.5" y1="524.75" x2="136.9" y2="524.75" class="mhg"/>
<line x1="128.5" y1="527.55" x2="136.9" y2="527.55" class="mhg"/>
<line x1="128.5" y1="526.15" x2="136.9" y2="526.15" class="mdg"/>
<line x1="146.55" y1="487.25" x2="146.55" y2="584" class="wh"/>
<line x1="144.05" y1="487.25" x2="149.05" y2="487.25" class="cp"/>
<line x1="144.05" y1="584" x2="149.05" y2="584" class="cp"/>
<rect x="142.95" y="532.95" width="7.2" height="27.1" class="bb"/>
<line x1="142.5" y1="543.6" x2="150.6" y2="543.6" class="mhb"/>
<line x1="142.5" y1="546.4" x2="150.6" y2="546.4" class="mhb"/>
<line x1="142.5" y1="545" x2="150.6" y2="545" class="mdb"/>
<line x1="173.7" y1="476.75" x2="173.7" y2="578.25" class="wh"/>
<line x1="171.2" y1="476.75" x2="176.2" y2="476.75" class="cp"/>
<line x1="171.2" y1="578.25" x2="176.2" y2="578.25" class="cp"/>
<rect x="169.5" y="524.25" width="8.4" height="35.5" class="gb"/>
<line x1="169.5" y1="538.5" x2="177.9" y2="538.5" class="mhg"/>
<line x1="169.5" y1="541.3" x2="177.9" y2="541.3" class="mhg"/>
<line x1="169.5" y1="539.9" x2="177.9" y2="539.9" class="mdg"/>
<line x1="187.3" y1="484.5" x2="187.3" y2="584" class="wh"/>
<line x1="184.8" y1="484.5" x2="189.8" y2="484.5" class="cp"/>
<line x1="184.8" y1="584" x2="189.8" y2="584" class="cp"/>
<rect x="183.7" y="508.2" width="7.2" height="44.35" class="bb"/>
<line x1="183.25" y1="529.85" x2="191.35" y2="529.85" class="mhb"/>
<line x1="183.25" y1="532.65" x2="191.35" y2="532.65" class="mhb"/>
<line x1="183.25" y1="531.25" x2="191.35" y2="531.25" class="mdb"/>
<line x1="214.7" y1="500" x2="214.7" y2="584" class="wh"/>
<line x1="212.2" y1="500" x2="217.2" y2="500" class="cp"/>
<line x1="212.2" y1="584" x2="217.2" y2="584" class="cp"/>
<rect x="210.5" y="530.5" width="8.4" height="39" class="gb"/>
<line x1="210.5" y1="540.5" x2="218.9" y2="540.5" class="mhg"/>
<line x1="210.5" y1="543.3" x2="218.9" y2="543.3" class="mhg"/>
<line x1="210.5" y1="541.9" x2="218.9" y2="541.9" class="mdg"/>
<line x1="228.55" y1="476.75" x2="228.55" y2="575.5" class="wh"/>
<line x1="226.05" y1="476.75" x2="231.05" y2="476.75" class="cp"/>
<line x1="226.05" y1="575.5" x2="231.05" y2="575.5" class="cp"/>
<rect x="224.95" y="516.2" width="7.2" height="41.35" class="bb"/>
<line x1="224.5" y1="534.1" x2="232.6" y2="534.1" class="mhb"/>
<line x1="224.5" y1="536.9" x2="232.6" y2="536.9" class="mhb"/>
<line x1="224.5" y1="535.5" x2="232.6" y2="535.5" class="mdb"/>
<path d="M40.75 465 V600.3 H239" class="ax"/>
<line x1="37.15" y1="468" x2="40.75" y2="468" class="tk"/>
<text transform="translate(33.5 470.8) scale(0.83 1)" font-size="7.9" text-anchor="end">150</text>
<line x1="37.15" y1="494.25" x2="40.75" y2="494.25" class="tk"/>
<text transform="translate(33.5 497.05) scale(0.83 1)" font-size="7.9" text-anchor="end">125</text>
<line x1="37.15" y1="520.75" x2="40.75" y2="520.75" class="tk"/>
<text transform="translate(33.5 523.55) scale(0.83 1)" font-size="7.9" text-anchor="end">100</text>
<line x1="37.15" y1="547" x2="40.75" y2="547" class="tk"/>
<text transform="translate(33.5 549.8) scale(0.83 1)" font-size="7.9" text-anchor="end">75</text>
<line x1="37.15" y1="573.5" x2="40.75" y2="573.5" class="tk"/>
<text transform="translate(33.5 576.3) scale(0.83 1)" font-size="7.9" text-anchor="end">50</text>
<line x1="37.15" y1="599.5" x2="40.75" y2="599.5" class="tk"/>
<text transform="translate(33.5 602.3) scale(0.83 1)" font-size="7.9" text-anchor="end">25</text>
<text transform="translate(58 468.5) scale(0.795 1)" font-size="8.5" text-anchor="middle">p=0.963</text>
<line x1="50" y1="473.25" x2="67" y2="473.25" class="pb"/>
<text transform="translate(98.25 470.3) scale(0.795 1)" font-size="8.5" text-anchor="middle">p=0.844</text>
<line x1="89.5" y1="474.5" x2="106.75" y2="474.5" class="pb"/>
<text transform="translate(141.75 469.8) scale(0.795 1)" font-size="8.5" text-anchor="middle">p=0.039</text>
<line x1="133.75" y1="474" x2="150.5" y2="474" class="pb"/>
<circle cx="142" cy="456.25" r="1.05" fill="#5a5a5a"/>
<text transform="translate(181.25 469) scale(0.795 1)" font-size="8.5" text-anchor="middle">p=0.448</text>
<line x1="173.25" y1="473.25" x2="190" y2="473.25" class="pb"/>
<text transform="translate(222.5 469) scale(0.795 1)" font-size="8.5" text-anchor="middle">p=0.34</text>
<line x1="214.25" y1="473.25" x2="230.75" y2="473.25" class="pb"/>
<text transform="translate(57 609.5) scale(0.88 1)" font-size="7.4" text-anchor="middle">rs1063856</text>
<text transform="translate(57 618.1) scale(0.88 1)" font-size="7.4" text-anchor="middle">VWF</text>
<text transform="translate(96.25 609.5) scale(0.88 1)" font-size="7.4" text-anchor="middle">rs868875</text>
<text transform="translate(96.25 618.1) scale(0.88 1)" font-size="7.4" text-anchor="middle">CLEC4M</text>
<text transform="translate(138.8 609.5) scale(0.88 1)" font-size="7.4" text-anchor="middle">rs4981022</text>
<text transform="translate(182.1 609.5) scale(0.88 1)" font-size="7.4" text-anchor="middle">rs12229292</text>
<text transform="translate(225.4 609.5) scale(0.88 1)" font-size="7.4" text-anchor="middle">rs10133762</text>
<text transform="translate(225.4 618.1) scale(0.88 1)" font-size="7.4" text-anchor="middle">TC2N</text>
<line x1="120.7" y1="614.2" x2="202.9" y2="614.2" class="sl"/>
<text transform="translate(166.8 624.5) scale(0.88 1)" font-size="7.4" text-anchor="middle">STAB2</text>
<text transform="translate(17 533) rotate(-90) scale(0.9 1)" font-size="9.8" text-anchor="middle">VWF:Ag (%)</text>
<text transform="translate(267.9 441.3) scale(0.82 1)" font-size="13.2" class="lt">F</text>
<line x1="309.95" y1="490.5" x2="309.95" y2="593.75" class="wh"/>
<line x1="307.45" y1="490.5" x2="312.45" y2="490.5" class="cp"/>
<line x1="307.45" y1="593.75" x2="312.45" y2="593.75" class="cp"/>
<rect x="305.75" y="515.75" width="8.4" height="38" class="gb"/>
<line x1="305.75" y1="539.75" x2="314.15" y2="539.75" class="mhg"/>
<line x1="305.75" y1="542.55" x2="314.15" y2="542.55" class="mhg"/>
<line x1="305.75" y1="541.15" x2="314.15" y2="541.15" class="mdg"/>
<line x1="323.55" y1="491.5" x2="323.55" y2="572.5" class="wh"/>
<line x1="321.05" y1="491.5" x2="326.05" y2="491.5" class="cp"/>
<line x1="321.05" y1="572.5" x2="326.05" y2="572.5" class="cp"/>
<rect x="319.95" y="528.45" width="7.2" height="21.6" class="bb"/>
<line x1="319.5" y1="533.1" x2="327.6" y2="533.1" class="mhb"/>
<line x1="319.5" y1="535.9" x2="327.6" y2="535.9" class="mhb"/>
<line x1="319.5" y1="534.5" x2="327.6" y2="534.5" class="mdb"/>
<line x1="351.2" y1="495" x2="351.2" y2="593.75" class="wh"/>
<line x1="348.7" y1="495" x2="353.7" y2="495" class="cp"/>
<line x1="348.7" y1="593.75" x2="353.7" y2="593.75" class="cp"/>
<rect x="347" y="529.5" width="8.4" height="31.25" class="gb"/>
<line x1="347" y1="540.25" x2="355.4" y2="540.25" class="mhg"/>
<line x1="347" y1="543.05" x2="355.4" y2="543.05" class="mhg"/>
<line x1="347" y1="541.65" x2="355.4" y2="541.65" class="mdg"/>
<line x1="364.8" y1="490.5" x2="364.8" y2="558" class="wh"/>
<line x1="362.3" y1="490.5" x2="367.3" y2="490.5" class="cp"/>
<line x1="362.3" y1="558" x2="367.3" y2="558" class="cp"/>
<rect x="361.2" y="516.2" width="7.2" height="28.35" class="bb"/>
<line x1="360.75" y1="533.1" x2="368.85" y2="533.1" class="mhb"/>
<line x1="360.75" y1="535.9" x2="368.85" y2="535.9" class="mhb"/>
<line x1="360.75" y1="534.5" x2="368.85" y2="534.5" class="mdb"/>
<line x1="391.7" y1="490.5" x2="391.7" y2="571.25" class="wh"/>
<line x1="389.2" y1="490.5" x2="394.2" y2="490.5" class="cp"/>
<line x1="389.2" y1="571.25" x2="394.2" y2="571.25" class="cp"/>
<rect x="387.5" y="526.5" width="8.4" height="30" class="gb"/>
<line x1="387.5" y1="541.25" x2="395.9" y2="541.25" class="mhg"/>
<line x1="387.5" y1="544.05" x2="395.9" y2="544.05" class="mhg"/>
<line x1="387.5" y1="542.65" x2="395.9" y2="542.65" class="mdg"/>
<line x1="405.55" y1="491.5" x2="405.55" y2="593.75" class="wh"/>
<line x1="403.05" y1="491.5" x2="408.05" y2="491.5" class="cp"/>
<line x1="403.05" y1="593.75" x2="408.05" y2="593.75" class="cp"/>
<rect x="401.95" y="516.2" width="7.2" height="30.85" class="bb"/>
<line x1="401.5" y1="532.85" x2="409.6" y2="532.85" class="mhb"/>
<line x1="401.5" y1="535.65" x2="409.6" y2="535.65" class="mhb"/>
<line x1="401.5" y1="534.25" x2="409.6" y2="534.25" class="mdb"/>
<line x1="432.45" y1="496.25" x2="432.45" y2="572.75" class="wh"/>
<line x1="429.95" y1="496.25" x2="434.95" y2="496.25" class="cp"/>
<line x1="429.95" y1="572.75" x2="434.95" y2="572.75" class="cp"/>
<rect x="428.25" y="518.25" width="8.4" height="32.75" class="gb"/>
<line x1="428.25" y1="533.5" x2="436.65" y2="533.5" class="mhg"/>
<line x1="428.25" y1="536.3" x2="436.65" y2="536.3" class="mhg"/>
<line x1="428.25" y1="534.9" x2="436.65" y2="534.9" class="mdg"/>
<line x1="446.3" y1="491.25" x2="446.3" y2="593.75" class="wh"/>
<line x1="443.8" y1="491.25" x2="448.8" y2="491.25" class="cp"/>
<line x1="443.8" y1="593.75" x2="448.8" y2="593.75" class="cp"/>
<rect x="442.7" y="533.7" width="7.2" height="25.35" class="bb"/>
<line x1="442.25" y1="540.85" x2="450.35" y2="540.85" class="mhb"/>
<line x1="442.25" y1="543.65" x2="450.35" y2="543.65" class="mhb"/>
<line x1="442.25" y1="542.25" x2="450.35" y2="542.25" class="mdb"/>
<line x1="473.7" y1="491.25" x2="473.7" y2="571.5" class="wh"/>
<line x1="471.2" y1="491.25" x2="476.2" y2="491.25" class="cp"/>
<line x1="471.2" y1="571.5" x2="476.2" y2="571.5" class="cp"/>
<rect x="469.5" y="504.25" width="8.4" height="33" class="gb"/>
<line x1="469.5" y1="526.75" x2="477.9" y2="526.75" class="mhg"/>
<line x1="469.5" y1="529.55" x2="477.9" y2="529.55" class="mhg"/>
<line x1="469.5" y1="528.15" x2="477.9" y2="528.15" class="mdg"/>
<line x1="487.05" y1="504.25" x2="487.05" y2="572.75" class="wh"/>
<line x1="484.55" y1="504.25" x2="489.55" y2="504.25" class="cp"/>
<line x1="484.55" y1="572.75" x2="489.55" y2="572.75" class="cp"/>
<rect x="483.45" y="531.7" width="7.2" height="19.6" class="bb"/>
<line x1="483" y1="540.6" x2="491.1" y2="540.6" class="mhb"/>
<line x1="483" y1="543.4" x2="491.1" y2="543.4" class="mhb"/>
<line x1="483" y1="542" x2="491.1" y2="542" class="mdb"/>
<path d="M300.95 465 V600.3 H499" class="ax"/>
<line x1="297.35" y1="469" x2="300.95" y2="469" class="tk"/>
<text transform="translate(294.3 471.8) scale(0.83 1)" font-size="7.9" text-anchor="end">2.00</text>
<line x1="297.35" y1="487.75" x2="300.95" y2="487.75" class="tk"/>
<text transform="translate(294.3 490.55) scale(0.83 1)" font-size="7.9" text-anchor="end">1.75</text>
<line x1="297.35" y1="506.5" x2="300.95" y2="506.5" class="tk"/>
<text transform="translate(294.3 509.3) scale(0.83 1)" font-size="7.9" text-anchor="end">1.50</text>
<line x1="297.35" y1="525.25" x2="300.95" y2="525.25" class="tk"/>
<text transform="translate(294.3 528.05) scale(0.83 1)" font-size="7.9" text-anchor="end">1.25</text>
<line x1="297.35" y1="543.75" x2="300.95" y2="543.75" class="tk"/>
<text transform="translate(294.3 546.55) scale(0.83 1)" font-size="7.9" text-anchor="end">1.00</text>
<line x1="297.35" y1="562.5" x2="300.95" y2="562.5" class="tk"/>
<text transform="translate(294.3 565.3) scale(0.83 1)" font-size="7.9" text-anchor="end">0.75</text>
<line x1="297.35" y1="581.25" x2="300.95" y2="581.25" class="tk"/>
<text transform="translate(294.3 584.05) scale(0.83 1)" font-size="7.9" text-anchor="end">0.50</text>
<line x1="297.35" y1="600" x2="300.95" y2="600" class="tk"/>
<text transform="translate(294.3 602.8) scale(0.83 1)" font-size="7.9" text-anchor="end">0.25</text>
<text transform="translate(318 475.3) scale(0.795 1)" font-size="8.5" text-anchor="middle">p=0.845</text>
<line x1="310" y1="479.5" x2="327" y2="479.5" class="pb"/>
<text transform="translate(358 477) scale(0.795 1)" font-size="8.5" text-anchor="middle">p=0.177</text>
<line x1="349.5" y1="481.25" x2="366.5" y2="481.25" class="pb"/>
<text transform="translate(401.5 476.5) scale(0.795 1)" font-size="8.5" text-anchor="middle">p=0.253</text>
<line x1="393.2" y1="480.75" x2="410" y2="480.75" class="pb"/>
<text transform="translate(440.5 475.8) scale(0.795 1)" font-size="8.5" text-anchor="middle">p=0.244</text>
<line x1="432" y1="480" x2="448.75" y2="480" class="pb"/>
<text transform="translate(480.5 475.8) scale(0.795 1)" font-size="8.5" text-anchor="middle">p=0.077</text>
<line x1="472.5" y1="480" x2="489.25" y2="480" class="pb"/>
<text transform="translate(316.25 609.5) scale(0.88 1)" font-size="7.4" text-anchor="middle">rs1063856</text>
<text transform="translate(316.25 618.1) scale(0.88 1)" font-size="7.4" text-anchor="middle">VWF</text>
<text transform="translate(355.5 609.5) scale(0.88 1)" font-size="7.4" text-anchor="middle">rs868875</text>
<text transform="translate(355.5 618.1) scale(0.88 1)" font-size="7.4" text-anchor="middle">CLEC4M</text>
<text transform="translate(397.4 609.5) scale(0.88 1)" font-size="7.4" text-anchor="middle">rs4981022</text>
<text transform="translate(441.5 609.5) scale(0.88 1)" font-size="7.4" text-anchor="middle">rs12229292</text>
<text transform="translate(484.8 609.5) scale(0.88 1)" font-size="7.4" text-anchor="middle">rs10133762</text>
<text transform="translate(484.8 618.1) scale(0.88 1)" font-size="7.4" text-anchor="middle">TC2N</text>
<line x1="379.5" y1="614.2" x2="462.3" y2="614.2" class="sl"/>
<text transform="translate(424.8 624.5) scale(0.88 1)" font-size="7.4" text-anchor="middle">STAB2</text>
<text transform="translate(273.8 532.3) rotate(-90) scale(0.905 1)" font-size="9.8" text-anchor="middle">VWFpp/VWF:Ag</text>
<rect x="0" y="0" width="520" height="1" fill="#080808"/>
<rect x="0" y="1" width="520" height="1" fill="#ececec"/>
<rect x="0" y="0" width="1" height="632" fill="#505050"/>
<rect x="1" y="0" width="1" height="632" fill="#8c8c8c"/>
<rect x="518" y="0" width="1" height="632" fill="#b5b5b5"/>
<rect x="0" y="630" width="520" height="1" fill="#9a9a9a"/>
<rect x="519" y="0" width="1" height="632" fill="#111"/>
<rect x="0" y="631" width="520" height="1" fill="#080808"/>
</svg>
</body></html>
